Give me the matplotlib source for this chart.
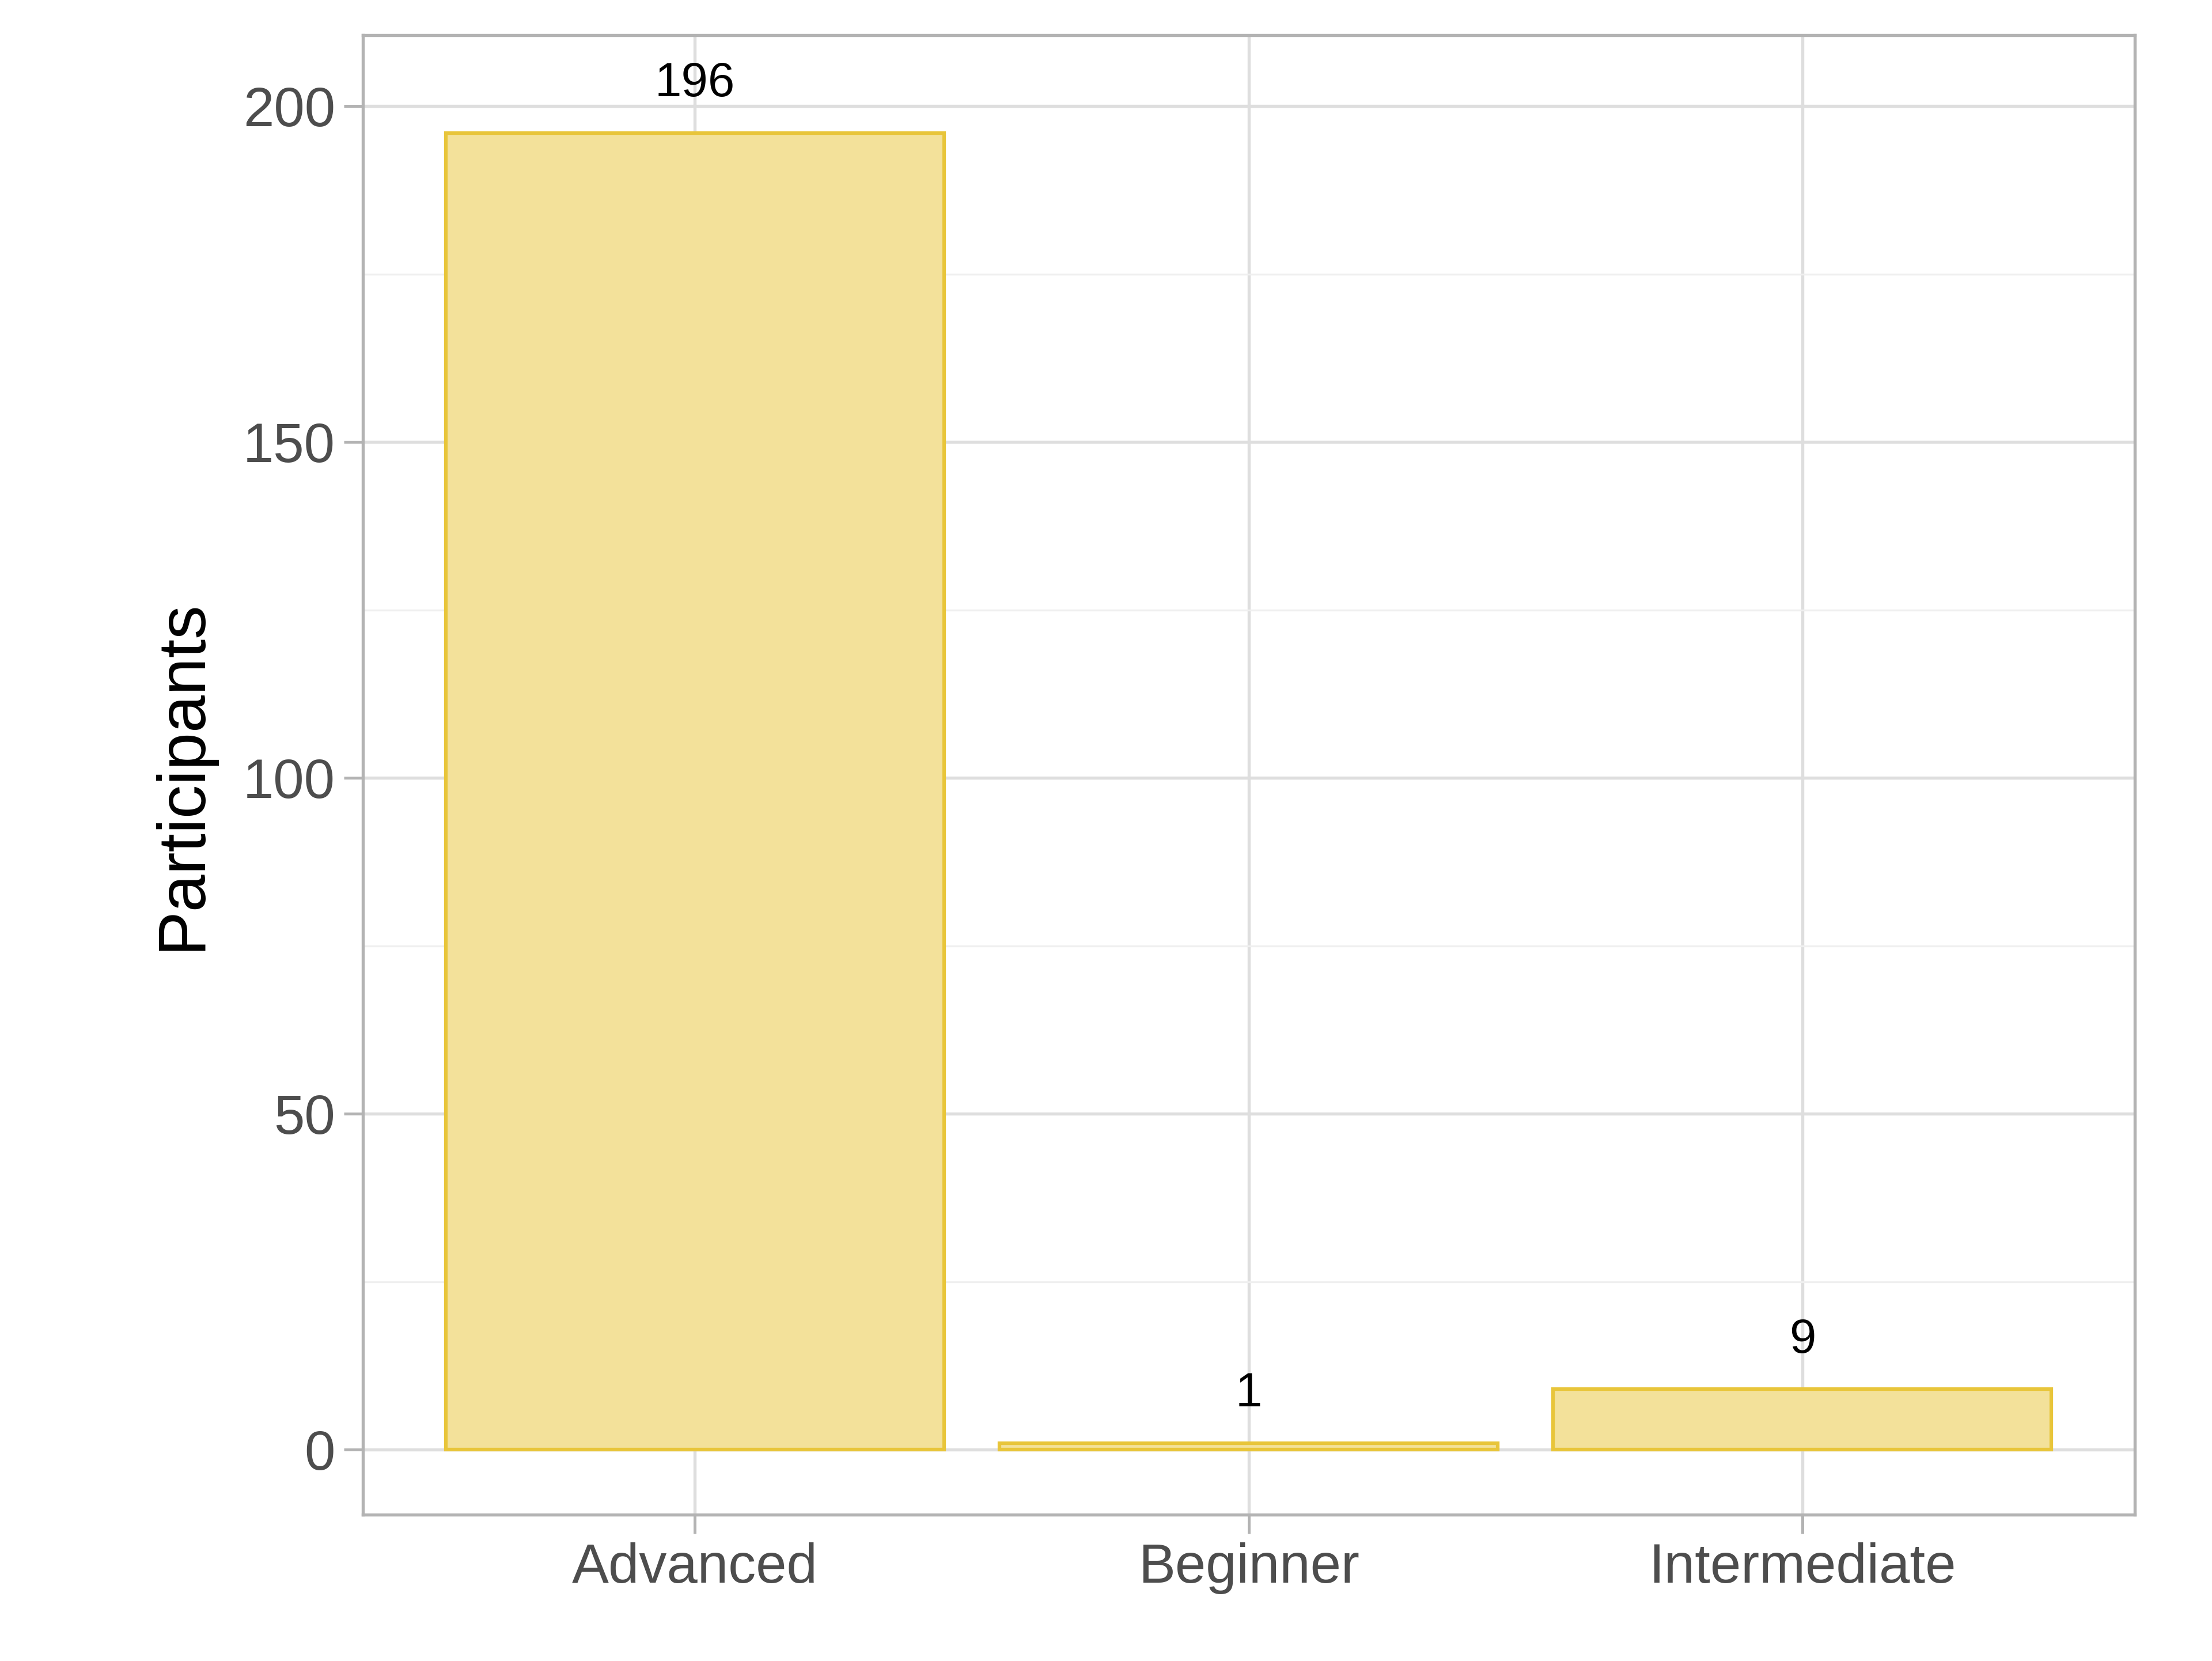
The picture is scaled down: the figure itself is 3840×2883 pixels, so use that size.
import matplotlib
matplotlib.use("Agg")
import matplotlib.pyplot as plt

categories = ["Advanced", "Beginner", "Intermediate"]
participants = [196, 1, 9]

plt.rcParams['font.family'] = ['Liberation Sans', 'DejaVu Sans']

fig = plt.figure(figsize=(12.8, 9.61), dpi=300)
ax = fig.add_axes([0.164, 0.088, 0.801, 0.891])

x = list(range(len(categories)))
ax.bar(x, participants, width=0.9, color="#F3E19A", edgecolor="#E8C53A", linewidth=1.5, zorder=2)
for xi, v in zip(x, participants):
    ax.text(xi, v + 4, str(v), ha="center", va="bottom", fontsize=20, color="black", zorder=3)

ax.set_xlim(-0.6, 2.6)
ax.set_ylim(-9.7, 210.6)
ax.set_xticks(x)
ax.set_xticklabels(categories)
ax.set_yticks([0, 50, 100, 150, 200])
ax.set_yticks([25, 75, 125, 175], minor=True)
ax.grid(True, which="major", color="#DEDEDE", linewidth=1.3, zorder=0)
ax.grid(True, which="minor", axis="y", color="#EFEFEF", linewidth=0.8, zorder=0)
ax.tick_params(axis="both", which="major", labelsize=23, labelcolor="#4D4D4D", color="#B3B3B3", length=8, width=1.2)
ax.tick_params(axis="y", which="minor", length=0)
for s in ax.spines.values():
    s.set_color("#B3B3B3")
    s.set_linewidth(1.3)
ax.set_ylabel("Participants", fontsize=28, labelpad=12)

fig.savefig("out.png", dpi=300)
